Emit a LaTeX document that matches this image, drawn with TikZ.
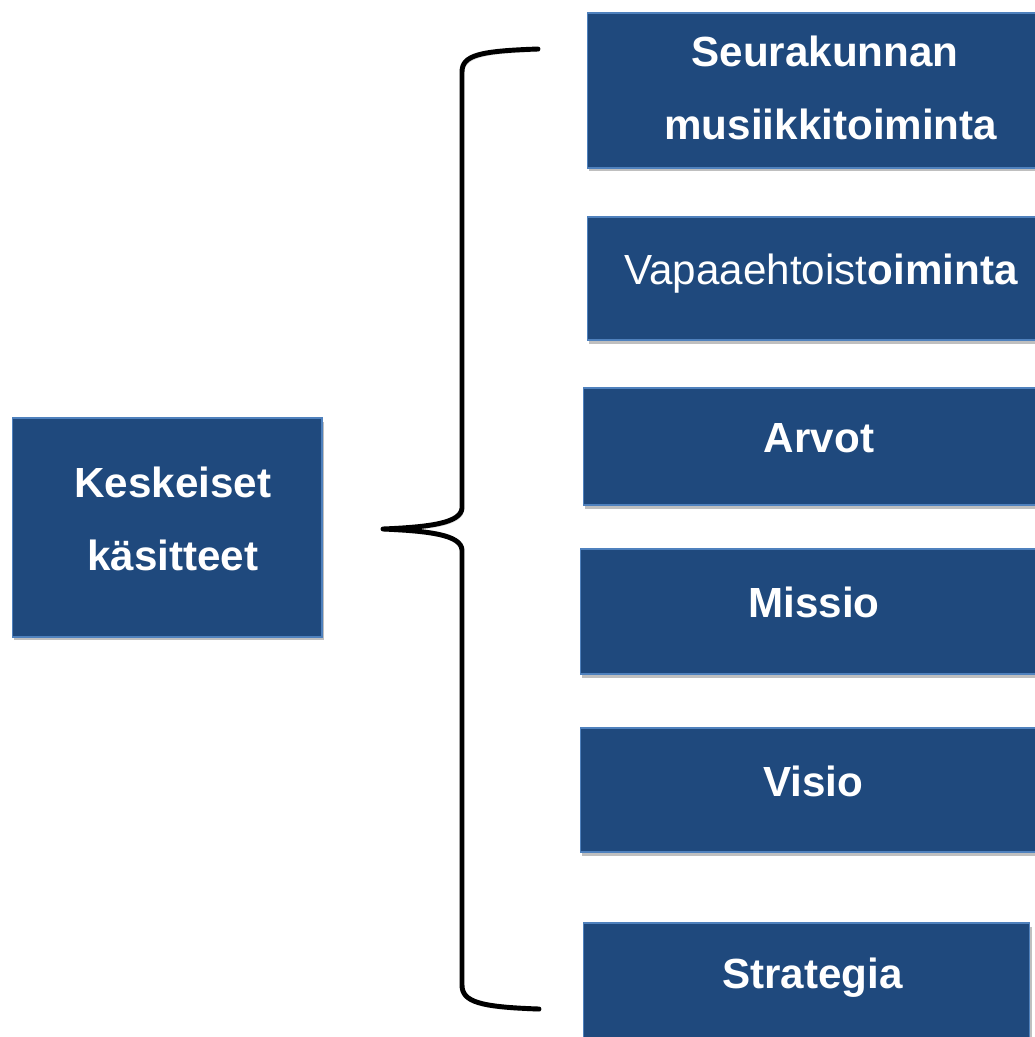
\documentclass[tikz,border=0pt]{standalone}
\usepackage{fontspec}
\setmainfont{Liberation Sans}
\usetikzlibrary{shadows}

\definecolor{boxblue}{RGB}{31,73,125}
\definecolor{edgeblue}{RGB}{79,129,189}

\tikzset{
  conceptbox/.style={rectangle, fill=boxblue, draw=edgeblue, line width=0.6pt,
    text=white, font=\fontsize{24pt}{41.7pt}\selectfont\bfseries, align=center,
    text height=17pt, text depth=10pt,
    drop shadow={shadow xshift=0.9pt, shadow yshift=-2pt, opacity=0.5}},
  bracket/.style={line width=2.8pt, line cap=round, line join=round,
    preaction={draw=black!40, opacity=0.35, transform canvas={xshift=0.9pt, yshift=-1.4pt}}}
}

\begin{document}
\begin{tikzpicture}[x=0.02cm, y=-0.02cm]
\useasboundingbox (0,0) rectangle (1034,1037);

\node[conceptbox, minimum width=6.2cm, minimum height=4.38cm, text height=58.7pt, text depth=9.4pt] at (167,527.5) (keskeiset) {\ Keskeiset\\\ käsitteet};

\node[conceptbox, minimum width=9.52cm, minimum height=3.1cm, text height=58.7pt, text depth=2.6pt] at (825,90.5) (musiikki) {Seurakunnan\\\ musiikkitoiminta};
\node[conceptbox, minimum width=9.36cm, minimum height=2.46cm] at (821,278.5) (vapaaehtoisuus) {{\mdseries Vapaaehtoist}oiminta};
\node[conceptbox, minimum width=9.44cm, minimum height=2.34cm] at (819,446.5) (arvot) {Arvot};
\node[conceptbox, minimum width=9.36cm, minimum height=2.5cm] at (814,611.5) (missio) {Missio};
\node[conceptbox, minimum width=9.32cm, minimum height=2.48cm] at (813,790) (visio) {Visio};
\node[conceptbox, minimum width=8.94cm, minimum height=2.36cm] at (806.5,982) (strategia) {\ Strategia};

\coordinate (bracetop) at (538,49);
\coordinate (bracetip) at (383,529);
\coordinate (bracebottom) at (539,1009);

\draw[bracket] (bracetop) .. controls (480,51) and (462,55) .. (462,72)
  -- (462,508) .. controls (461,523) and (430,527) .. (bracetip)
  .. controls (430,531) and (461,535) .. (462,550)
  -- (462,985) .. controls (462,1002) and (480,1007) .. (bracebottom);

\end{tikzpicture}
\end{document}
